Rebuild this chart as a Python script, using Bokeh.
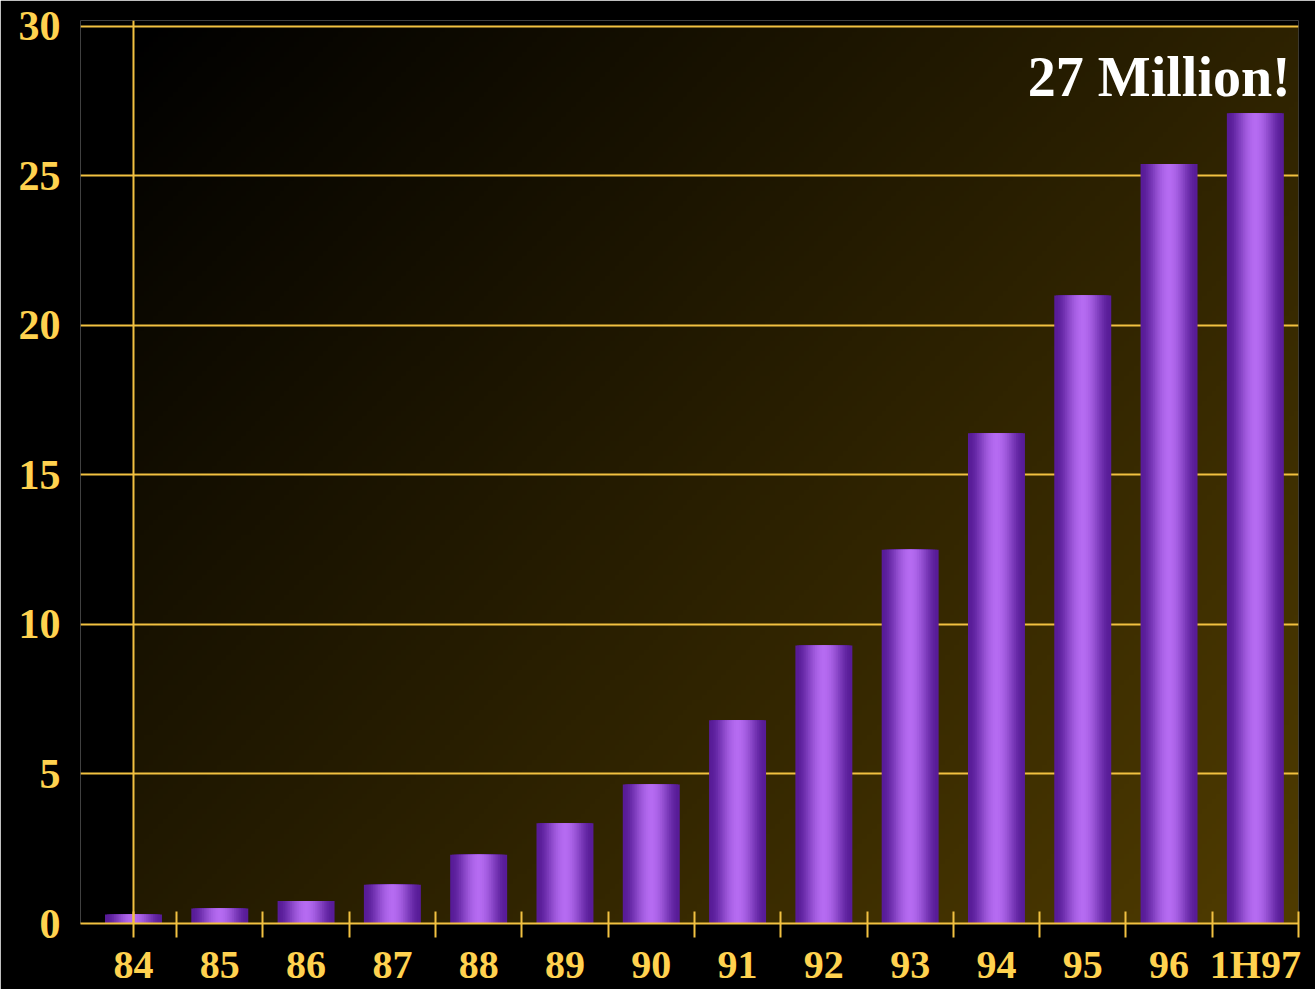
import numpy as np
from bokeh.plotting import figure
from bokeh.models import Range1d, FixedTicker, Span, Label, ColumnDataSource
from bokeh.embed import file_html
from bokeh.resources import INLINE

# ---- data ----
categories = ["84", "85", "86", "87", "88", "89", "90", "91", "92", "93", "94", "95", "96", "1H97"]
users_millions = [0.3, 0.5, 0.75, 1.3, 2.3, 3.35, 4.65, 6.8, 9.3, 12.5, 16.4, 21.0, 25.4, 27.1]
y_ticks = [0, 5, 10, 15, 20, 25, 30]
annotation_text = "27 Million!"

# ---- styles ----
YELLOW = "#f2c141"
LABEL_YELLOW = "#ffd24f"
FONT = "Liberation Serif"

x_pos = list(range(len(categories)))
source = ColumnDataSource(dict(x=x_pos, top=users_millions, cat=categories))

p = figure(width=1315, height=989, output_backend="svg", toolbar_location=None,
           x_range=Range1d(-0.614, 13.5), y_range=Range1d(0, 30.2),
           min_border_left=80, min_border_right=17, min_border_top=20, min_border_bottom=62)
p.background_fill_color = "black"
p.border_fill_color = "black"
p.outline_line_color = None

# ---- background gradient (decoration) ----
H, W = 180, 240
xp = np.linspace(0, 1165, W)[None, :]
yp_top = np.linspace(898, 0, H)[:, None]
t = np.clip((xp + yp_top) / 2063.0, 0, 1) ** 1.0
img = np.empty((H, W), dtype=np.uint32)
view = img.view(dtype=np.uint8).reshape((H, W, 4))
view[:, :, 0] = (t * 80).astype(np.uint8)
view[:, :, 1] = (t * 60).astype(np.uint8)
view[:, :, 2] = 0
view[:, :, 3] = 255
p.image_rgba(image=[img], x=0, y=0, dw=13.5, dh=30, level="image")

# ---- grid ----
p.xgrid.visible = False
p.yaxis.ticker = FixedTicker(ticks=y_ticks)
p.ygrid.grid_line_color = YELLOW
p.ygrid.grid_line_width = 2

# ---- cylinder-like bars ----
edge = np.array([88, 28, 152])
center = np.array([182, 108, 242])
n_layers = 16
for k in range(n_layers):
    frac = 1.0 - k / n_layers
    s = np.sqrt(max(0.0, 1 - frac ** 2)) ** 4
    c = (edge + (center - edge) * s).astype(int)
    col = "#%02x%02x%02x" % tuple(c)
    p.vbar(x="x", top="top", bottom=0, width=0.66 * frac, source=source,
           fill_color=col, line_color=None)

# y axis line at first category
p.add_layout(Span(location=0, dimension="height", line_color=YELLOW, line_width=2))

# ---- x axis ----
xa = p.xaxis[0]
xa.ticker = FixedTicker(ticks=x_pos, minor_ticks=[0] + [i + 0.5 for i in x_pos])
xa.major_label_overrides = {i: c for i, c in zip(x_pos, categories)}
xa.major_tick_line_color = None
xa.major_tick_in = 0
xa.major_tick_out = 0
xa.minor_tick_line_color = YELLOW
xa.minor_tick_line_width = 2
xa.minor_tick_in = 12
xa.minor_tick_out = 14
xa.axis_line_color = YELLOW
xa.axis_line_width = 2
xa.major_label_text_color = LABEL_YELLOW
xa.major_label_text_font = FONT
xa.major_label_text_font_style = "bold"
xa.major_label_text_font_size = "40px"
xa.major_label_standoff = 4

# ---- y axis ----
ya = p.yaxis[0]
ya.axis_line_color = None
ya.major_tick_line_color = None
ya.minor_tick_line_color = None
ya.major_tick_in = 0
ya.major_tick_out = 0
ya.major_label_text_color = LABEL_YELLOW
ya.major_label_text_font = FONT
ya.major_label_text_font_style = "bold"
ya.major_label_text_font_size = "42px"
ya.major_label_standoff = 20

# ---- annotation ----
p.add_layout(Label(x=13.41, y=28.3, text=annotation_text, text_align="right",
                   text_baseline="middle", text_color="white", text_font=FONT,
                   text_font_style="bold", text_font_size="56px"))

open("out.html", "w").write(file_html(p, INLINE))
